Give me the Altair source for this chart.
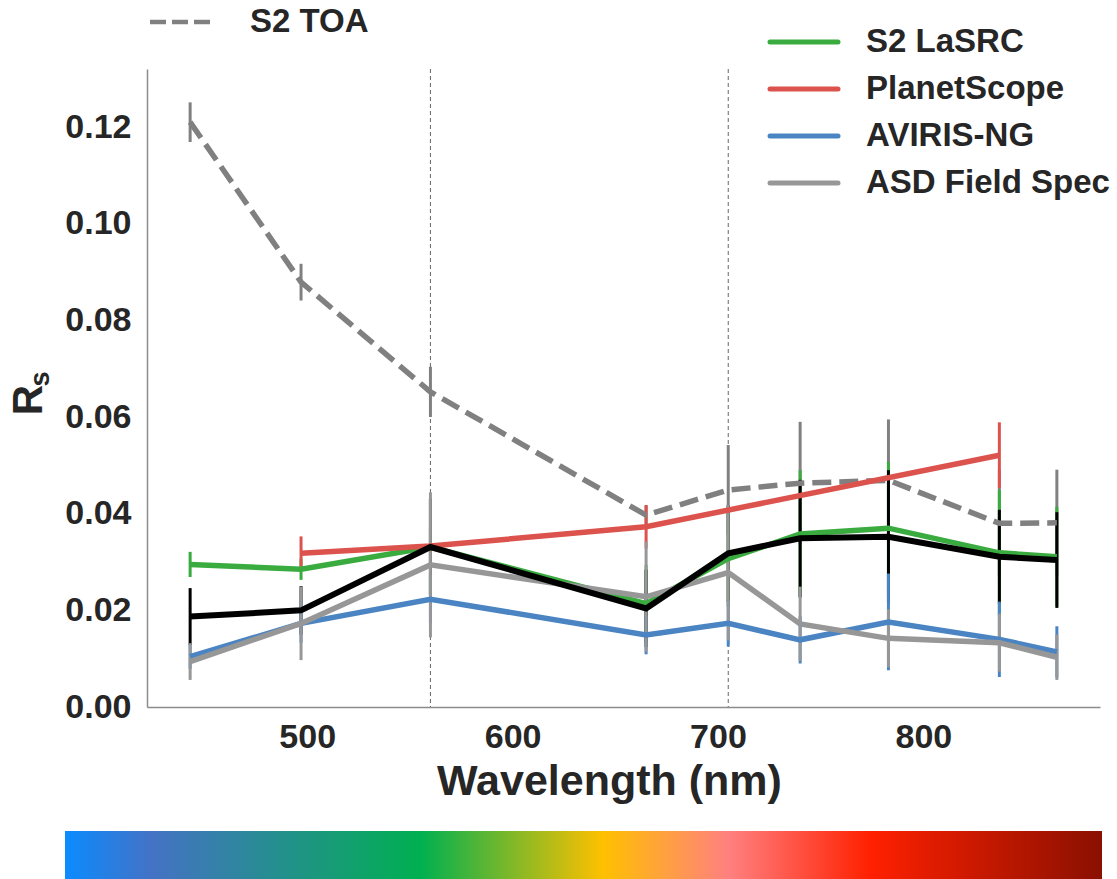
import altair as alt
import pandas as pd

FONT = "Liberation Sans"
TXT = "#262626"

# ---------------- data ----------------
wavelengths = [443, 497, 560, 665, 705, 740, 783, 837, 865]

toa_vals = [0.1210, 0.0879, 0.0652, 0.0397, 0.0449, 0.0463, 0.0469, 0.0380, 0.0381]
toa_err = [0.0041, 0.0038, 0.0052, 0.0020, 0.0093, 0.0127, 0.0126, 0.0110, 0.0110]

lasrc_vals = [0.0295, 0.0285, 0.0331, 0.0214, 0.0307, 0.0358, 0.0370, 0.0319, 0.0311]
lasrc_err = [0.0026, 0.0022, 0.0100, 0.0080, 0.0100, 0.0132, 0.0137, 0.0130, 0.0103]

planet_wl = [497, 560, 665, 837]
planet_vals = [0.0318, 0.0333, 0.0373, 0.0521]
planet_err = [0.0035, 0.0040, 0.0045, 0.0068]

aviris_vals = [0.0104, 0.0173, 0.0223, 0.0149, 0.0173, 0.0139, 0.0176, 0.0140, 0.0114]
aviris_err = [0.0025, 0.0040, 0.0050, 0.0040, 0.0048, 0.0049, 0.0100, 0.0078, 0.0053]

asd_vals = [0.0094, 0.0173, 0.0294, 0.0228, 0.0278, 0.0172, 0.0142, 0.0133, 0.0103]
asd_err = [0.0038, 0.0076, 0.0150, 0.0114, 0.0140, 0.0077, 0.0060, 0.0060, 0.0047]

mean_vals = [0.0187, 0.0200, 0.0331, 0.0204, 0.0318, 0.0349, 0.0352, 0.0311, 0.0304]
mean_err = [0.0059, 0.0050, 0.0100, 0.0080, 0.0100, 0.0121, 0.0138, 0.0097, 0.0099]

ref_lines = [560, 705]

x_ticks = [500, 600, 700, 800]
y_ticks = [0.00, 0.02, 0.04, 0.06, 0.08, 0.10, 0.12]

legend_labels = ["S2 LaSRC", "PlanetScope", "AVIRIS-NG", "ASD Field Spec"]
legend_colors = ["#3aab3f", "#dc524c", "#4a84c2", "#979797"]
toa_label = "S2 TOA"
toa_color = "#808080"
mean_color = "#000000"

spectrum_stops = [
    (0.00, "#0b8bff"), (0.085, "#4472c4"), (0.343, "#00b050"),
    (0.519, "#ffc000"), (0.64, "#ff8080"), (0.777, "#ff2000"), (1.00, "#8a1000"),
]

# ---------------- frames ----------------
series = [
    # name, wl, vals, err, color, line width, dash
    ("S2 TOA", wavelengths, toa_vals, toa_err, toa_color, 5.5, [19, 8]),
    ("S2 LaSRC", wavelengths, lasrc_vals, lasrc_err, legend_colors[0], 5.5, None),
    ("PlanetScope", planet_wl, planet_vals, planet_err, legend_colors[1], 5.5, None),
    ("Mean", wavelengths, mean_vals, mean_err, mean_color, 6, None),
    ("AVIRIS-NG", wavelengths, aviris_vals, aviris_err, legend_colors[2], 5.5, None),
    ("ASD Field Spec", wavelengths, asd_vals, asd_err, legend_colors[3], 5.5, None),
]

rows = []
for order, (name, wls, vals, errs, col, _, _) in enumerate(series):
    for w, v, e in zip(wls, vals, errs):
        rows.append({"series": name, "wl": w, "value": v, "lo": v - e, "hi": v + e,
                     "color": col, "order": order})
df = pd.DataFrame(rows)

x_scale = alt.Scale(domain=[422, 886], nice=False, zero=False)
y_scale = alt.Scale(domain=[0, 0.132], nice=False, zero=False)

x_axis = alt.Axis(values=x_ticks, format="d", title="Wavelength (nm)",
                  labelFont=FONT, labelFontSize=34, labelFontWeight="bold", labelColor=TXT,
                  labelPadding=13, ticks=False, tickSize=0, grid=False,
                  domainColor="#8c8c8c", domainWidth=1.5,
                  titleFont=FONT, titleFontSize=43, titleFontWeight="bold", titleColor=TXT,
                  titlePadding=6, titleX=462, titleAlign="center")
y_axis = alt.Axis(values=y_ticks, format=".2f", title=None,
                  labelFont=FONT, labelFontSize=34, labelFontWeight="bold", labelColor=TXT,
                  labelPadding=16, ticks=False, tickSize=0, grid=False,
                  domainColor="#8c8c8c", domainWidth=1.5)


def X(field="wl"):
    return alt.X(f"{field}:Q", scale=x_scale, axis=x_axis)


def Y(field):
    return alt.Y(f"{field}:Q", scale=y_scale, axis=y_axis)


ref_df = pd.DataFrame({"wl": ref_lines})
ref_layer = alt.Chart(ref_df).mark_rule(color="#666666", strokeWidth=1, strokeDash=[4, 3]).encode(x=X())

err_layer = alt.Chart(df).mark_rule(strokeWidth=3).encode(
    x=X(), y=Y("lo"), y2="hi:Q", color=alt.Color("color:N", scale=None)
)

line_order = ["S2 TOA", "S2 LaSRC", "PlanetScope", "AVIRIS-NG", "ASD Field Spec", "Mean"]
line_layers = []
for nm in line_order:
    spec = [s for s in series if s[0] == nm][0]
    kw = dict(color=spec[4], strokeWidth=spec[5], strokeJoin="miter")
    if spec[6] is not None:
        kw["strokeDash"] = spec[6]
    line_layers.append(
        alt.Chart(df[df["series"] == nm]).mark_line(**kw).encode(x=X(), y=Y("value"))
    )

data_layer = alt.layer(ref_layer, err_layer, *line_layers)

# ---------------- legends ----------------
legend_df = pd.DataFrame({"label": legend_labels, "color": legend_colors,
                          "idx": list(range(len(legend_labels)))})
leg_y = alt.Y("idx:Q", scale=alt.Scale(domain=[0, 3], range=[-27, 114]), axis=None)
leg_rules = alt.Chart(legend_df).mark_rule(strokeWidth=5, strokeCap="round").encode(
    x=alt.value(623), x2=alt.value(691), y=leg_y, color=alt.Color("color:N", scale=None)
)
leg_text = alt.Chart(legend_df).mark_text(
    align="left", baseline="middle", font=FONT, fontSize=33, fontWeight="bold", color=TXT
).encode(x=alt.value(719), y=leg_y, text="label:N")
legend_layer = alt.layer(leg_rules, leg_text)

toa_df = pd.DataFrame({"label": [toa_label]})
toa_rule = alt.Chart(toa_df).mark_rule(strokeWidth=4.5, strokeDash=[16, 6], color=toa_color).encode(
    x=alt.value(3), x2=alt.value(68), y=alt.value(-47)
)
toa_text = alt.Chart(toa_df).mark_text(
    align="left", baseline="middle", font=FONT, fontSize=33, fontWeight="bold", color=TXT
).encode(x=alt.value(103), y=alt.value(-47), text="label:N")

# y-axis title R_s
ylab_df = pd.DataFrame({"t": ["R"], "s": ["s"]})
ylab_R = alt.Chart(ylab_df).mark_text(
    angle=270, align="center", baseline="middle", font=FONT, fontSize=42, fontWeight="bold", color=TXT
).encode(x=alt.value(-118), y=alt.value(331), text="t:N")
ylab_s = alt.Chart(ylab_df).mark_text(
    angle=270, align="center", baseline="middle", font=FONT, fontSize=27, fontWeight="bold", color=TXT
).encode(x=alt.value(-106), y=alt.value(310), text="s:N")

# spectrum colour bar
bar_df = pd.DataFrame({"a": [0]})
spectrum = alt.Chart(bar_df).mark_rect(
    color=alt.LinearGradient(
        gradient="linear",
        stops=[alt.GradientStop(offset=o, color=c) for o, c in spectrum_stops],
        x1=0, x2=1, y1=0, y2=0,
    )
).encode(x=alt.value(-82), x2=alt.value(955), y=alt.value(762), y2=alt.value(812))

chart = alt.layer(
    data_layer, legend_layer, toa_rule, toa_text, ylab_R, ylab_s, spectrum
).resolve_scale(y="independent").properties(
    width=953, height=638,
    autosize=alt.AutoSizeParams(type="none"),
    padding={"left": 147, "top": 69, "right": 17, "bottom": 172},
).configure_view(stroke=None)

chart.save("out.html", embed_options={"renderer": "svg", "actions": False})
